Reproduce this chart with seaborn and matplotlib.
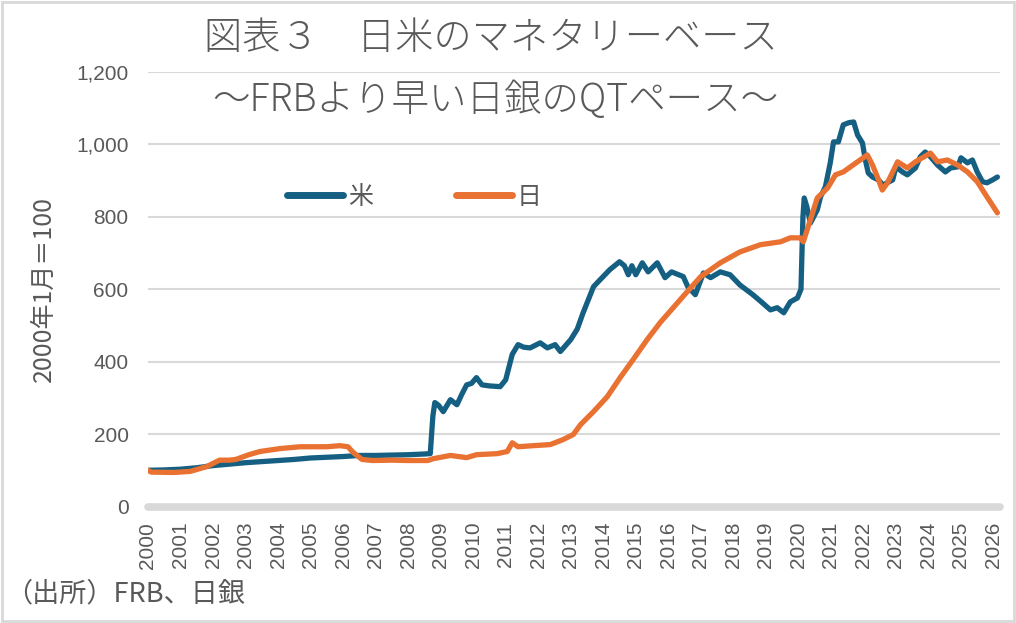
import matplotlib
matplotlib.use("Agg")
import matplotlib.pyplot as plt
import matplotlib.ticker as mticker
from matplotlib.patches import Rectangle
import pandas as pd
import seaborn as sns

# --- data (index, 2000年1月=100) ---
us_t = [2000.0, 2000.5, 2001.0, 2001.5, 2002.0, 2002.5, 2003.0, 2003.5, 2004.0, 2004.5,
        2005.0, 2005.5, 2006.0, 2006.5, 2007.0, 2007.5, 2008.0, 2008.5, 2008.68, 2008.76,
        2008.82, 2008.93, 2009.08, 2009.2, 2009.3, 2009.5, 2009.65, 2009.8, 2009.95, 2010.1,
        2010.27, 2010.5, 2010.83, 2011.0, 2011.2, 2011.38, 2011.55, 2011.75, 2012.06, 2012.28,
        2012.52, 2012.68, 2013.0, 2013.2, 2013.38, 2013.7, 2013.9, 2014.2, 2014.5, 2014.65,
        2014.77, 2014.88, 2015.0, 2015.2, 2015.38, 2015.66, 2015.9, 2016.1, 2016.46, 2016.6,
        2016.83, 2017.08, 2017.3, 2017.6, 2017.9, 2018.2, 2018.6, 2018.9, 2019.14, 2019.35,
        2019.55, 2019.75, 2019.97, 2020.08, 2020.14, 2020.18, 2020.26, 2020.37, 2020.58, 2020.68,
        2020.83, 2020.98, 2021.08, 2021.23, 2021.38, 2021.55, 2021.7, 2021.82, 2021.97, 2022.06,
        2022.15, 2022.28, 2022.46, 2022.6, 2022.9, 2023.0, 2023.2, 2023.35, 2023.6, 2023.75,
        2023.9, 2024.06, 2024.28, 2024.52, 2024.68, 2024.9, 2025.0, 2025.2, 2025.35, 2025.5,
        2025.66, 2025.8, 2025.97, 2026.12]
us_v = [100, 101, 103, 107, 113, 117, 121, 124, 127, 130,
        134, 136, 138, 141, 141, 142, 143, 145, 146, 250,
        287, 280, 262, 280, 295, 281, 310, 336, 340, 356,
        336, 333, 331, 350, 420, 447, 440, 438, 452, 438,
        447, 428, 461, 490, 535, 607, 626, 654, 676, 665,
        640, 665, 640, 673, 648, 673, 632, 648, 635, 607,
        585, 645, 632, 648, 640, 612, 585, 562, 543, 549,
        535, 565, 576, 600, 800, 852, 828, 783, 819, 855,
        883, 949, 1007, 1007, 1054, 1060, 1062, 1026, 1004, 957,
        921, 910, 902, 888, 902, 938, 924, 916, 935, 966,
        979, 966, 943, 924, 935, 938, 963, 949, 957, 924,
        897, 894, 902, 910]

jp_t = [2000.0, 2000.1, 2000.8, 2001.3, 2001.8, 2002.2, 2002.5, 2002.7, 2003.1, 2003.45,
        2004.06, 2004.68, 2005.5, 2005.9, 2006.15, 2006.3, 2006.58, 2006.9, 2007.5, 2008.0,
        2008.6, 2008.77, 2009.3, 2009.8, 2010.1, 2010.74, 2011.05, 2011.2, 2011.38, 2011.85,
        2012.37, 2012.77, 2013.08, 2013.3, 2013.7, 2014.12, 2014.52, 2014.92, 2015.35, 2015.75,
        2016.15, 2016.58, 2017.0, 2017.3, 2017.6, 2018.2, 2018.83, 2019.45, 2019.75, 2020.06,
        2020.15, 2020.37, 2020.58, 2020.9, 2021.14, 2021.38, 2021.82, 2022.12, 2022.28, 2022.43,
        2022.58, 2022.74, 2023.05, 2023.35, 2023.6, 2024.06, 2024.28, 2024.58, 2024.9, 2025.2,
        2025.5, 2025.8, 2026.12]
jp_v = [100, 95, 94, 97, 110, 128, 128, 130, 143, 152,
        160, 165, 165, 168, 165, 150, 130, 127, 128, 127,
        127, 132, 141, 135, 143, 146, 152, 176, 165, 168,
        171, 185, 199, 226, 262, 303, 356, 406, 461, 508,
        549, 593, 635, 654, 673, 703, 723, 731, 742, 742,
        731, 792, 852, 880, 916, 924, 952, 971, 943, 910,
        874, 894, 952, 935, 952, 976, 952, 957, 943, 924,
        897, 855, 811]

years = list(range(2000, 2027))

us_df = pd.DataFrame({"t": us_t, "v": us_v})
jp_df = pd.DataFrame({"t": jp_t, "v": jp_v})

blue = "#156082"
orange = "#E97132"
grey_txt = "#595959"
grid_c = "#D9D9D9"

sns.set_theme(style="white")
plt.rcParams["font.family"] = ["Liberation Sans", "Noto Sans CJK JP", "DejaVu Sans"]
cjk = ["Noto Sans CJK JP", "DejaVu Sans"]

fig = plt.figure(figsize=(10.16, 6.23), dpi=100)
ax = fig.add_axes([148 / 1016, 1 - 506.5 / 623, (1000 - 148) / 1016, (506.5 - 72) / 623])

for y in range(200, 1201, 200):
    ax.axhline(y, color=grid_c, lw=1.5, zorder=1)
ax.axhline(0, color=grid_c, lw=5.5, zorder=1, clip_on=False)

sns.lineplot(data=us_df, x="t", y="v", color=blue, lw=3.8, sort=False, ax=ax,
             label="米", zorder=3)
sns.lineplot(data=jp_df, x="t", y="v", color=orange, lw=3.8, sort=False, ax=ax,
             label="日", zorder=4)

ax.set_xlim(2000, 2026.2)
ax.set_ylim(0, 1200)
for s in ax.spines.values():
    s.set_visible(False)

ax.set_yticks(range(0, 1201, 200))
ax.yaxis.set_major_formatter(mticker.FuncFormatter(lambda v, p: f"{int(v):,}"))
ax.set_xticks(years)
ax.set_xticklabels([str(y) for y in years], rotation=90)
ax.tick_params(axis="both", length=0, labelcolor=grey_txt, labelsize=15)
ax.tick_params(axis="x", pad=11)
ax.tick_params(axis="y", pad=14)
ax.set_xlabel("")
ax.set_ylabel("2000年1月＝100", color=grey_txt, fontsize=18, family=cjk, labelpad=14)

leg = ax.legend(loc="center left", bbox_to_anchor=(287 / 1016, 1 - 197 / 623),
                bbox_transform=fig.transFigure, ncol=2, frameon=False, borderpad=0,
                borderaxespad=0, handlelength=2.25, handletextpad=0.2, columnspacing=3.3,
                prop={"family": cjk, "size": 18})
for t in leg.get_texts():
    t.set_color(grey_txt)
for h in leg.get_lines():
    h.set_linewidth(5)
    h.set_solid_capstyle("round")

fig.text(491 / 1016, 1 - 38 / 623, "図表３　日米のマネタリーベース", ha="center", va="center",
         fontsize=27.5, color=grey_txt, family=cjk, fontweight="light")
fig.text(495 / 1016, 1 - 100 / 623, "～FRBより早い日銀のQTペース～", ha="center", va="center",
         fontsize=27, color=grey_txt, family=cjk, fontweight="light")
fig.text(5 / 1016, 1 - 594 / 623, "（出所）FRB、日銀", ha="left", va="center",
         fontsize=19.5, color=grey_txt, family=cjk)

fig.patches.append(Rectangle((0.002, 0.003), 0.996, 0.994, transform=fig.transFigure,
                             fill=False, edgecolor=grid_c, lw=2))

fig.savefig("out.png", dpi=100)
